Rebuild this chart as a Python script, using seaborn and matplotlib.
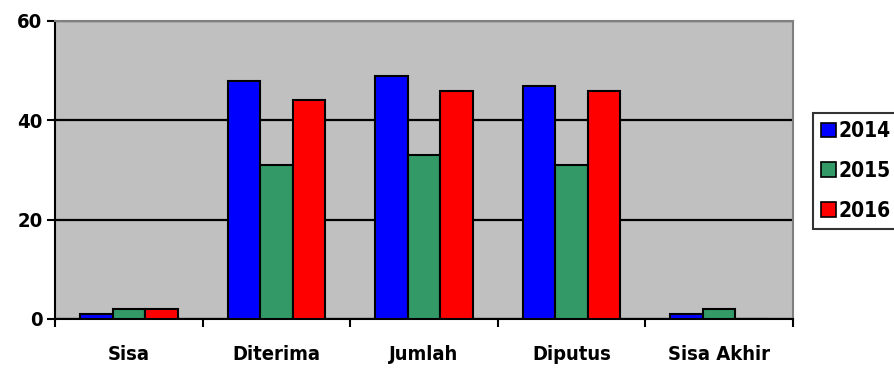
import matplotlib
matplotlib.use("Agg")
import matplotlib.pyplot as plt
import seaborn as sns
import pandas as pd
from matplotlib.patches import Patch

categories = ["Sisa", "Diterima", "Jumlah", "Diputus", "Sisa Akhir"]
years = ["2014", "2015", "2016"]
v2014 = [1, 48, 49, 47, 1]
v2015 = [2, 31, 33, 31, 2]
v2016 = [2, 44, 46, 46, 0]
yticks = [0, 20, 40, 60]
colors = ["#0000FF", "#339966", "#FF0000"]

rows = []
for y, vals in zip(years, [v2014, v2015, v2016]):
    for c, v in zip(categories, vals):
        rows.append({"cat": c, "year": y, "val": v})
df = pd.DataFrame(rows)

sns.set_style("white")
plt.rcParams["font.family"] = ["DejaVu Sans"]
plt.rcParams["font.stretch"] = "condensed"
plt.rcParams["font.weight"] = "bold"
plt.rcParams["text.color"] = "black"
plt.rcParams["xtick.color"] = "black"
plt.rcParams["ytick.color"] = "black"

fig = plt.figure(figsize=(8.95, 3.68), dpi=100)
ax = fig.add_axes([55/895, 1 - 319/368, 738/895, 298/368])
ax.set_facecolor("#C0C0C0")
ax.yaxis.grid(True, color="black", linewidth=1.6, zorder=0)
ax.set_axisbelow(True)

sns.barplot(data=df, x="cat", y="val", hue="year", palette=colors,
            order=categories, hue_order=years, width=0.66,
            edgecolor="black", linewidth=1.5, saturation=1, ax=ax,
            legend=False, zorder=3)

fp = dict(fontsize=14.5, fontweight="bold", fontstretch="condensed", color="black")
ax.set_ylim(0, 60)
ax.set_xlim(-0.5, 4.5)
ax.set_yticks(yticks)
ax.set_yticklabels([str(t) for t in yticks], **fp)
ax.set_xticks(range(len(categories)))
ax.set_xticklabels(categories, **fp)
ax.tick_params(axis="x", which="major", bottom=True, length=0, pad=19)
ax.set_xticks([i - 0.5 for i in range(len(categories) + 1)], minor=True)
ax.tick_params(axis="x", which="minor", bottom=True, length=6, width=1.5, color="black", direction="out")
ax.tick_params(axis="y", which="major", left=True, length=6, width=1.5, color="black", direction="out", pad=3)
ax.set_xlabel("")
ax.set_ylabel("")
for s in ["left", "bottom"]:
    ax.spines[s].set_color("black")
    ax.spines[s].set_linewidth(1.5)
for s in ["top", "right"]:
    ax.spines[s].set_color("#808080")
    ax.spines[s].set_linewidth(1.5)

handles = [Patch(facecolor=c, edgecolor="black", linewidth=1.2, label=y) for c, y in zip(colors, years)]
leg = fig.legend(handles=handles, loc="upper left", bbox_to_anchor=(813/895, 1 - 113/368),
                 frameon=True, fancybox=False, edgecolor="black",
                 prop=dict(size=15, weight="bold", stretch="condensed"),
                 handlelength=0.72, handleheight=0.72, handletextpad=0.12,
                 borderpad=0.4, labelspacing=0.95, borderaxespad=0)
leg.get_frame().set_linewidth(1.5)

fig.savefig("out.png", dpi=100)
